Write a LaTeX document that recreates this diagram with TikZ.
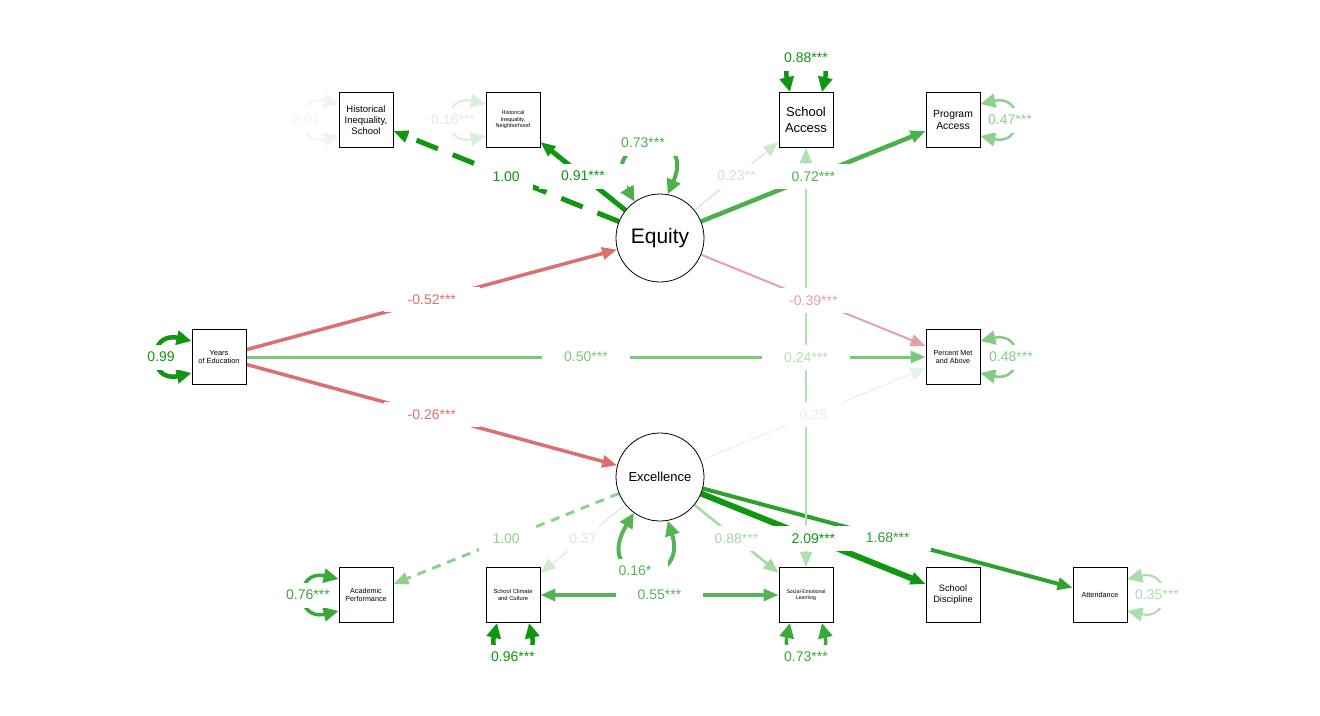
\documentclass[tikz,border=0pt]{standalone}
\usepackage{fontspec}
\setmainfont{Liberation Sans}
\usetikzlibrary{arrows.meta,calc}
\pgfdeclarelayer{bg}
\pgfsetlayers{bg,main}
\definecolor{gA}{HTML}{109610}
\definecolor{gB}{HTML}{2EA02E}
\definecolor{gC}{HTML}{3AA83A}
\definecolor{gD}{HTML}{4CB04C}
\definecolor{gE}{HTML}{55B555}
\definecolor{gF}{HTML}{7CC87C}
\definecolor{gG}{HTML}{84CC84}
\definecolor{gH}{HTML}{8ED08E}
\definecolor{gI}{HTML}{A6D9A6}
\definecolor{gJ}{HTML}{ACDCAC}
\definecolor{gK}{HTML}{B2DFB2}
\definecolor{gL}{HTML}{C8E8C8}
\definecolor{gM}{HTML}{D0ECD0}
\definecolor{gN}{HTML}{DAEFDA}
\definecolor{gO}{HTML}{E3F3E3}
\definecolor{gP}{HTML}{F2F2F2}
\definecolor{rA}{HTML}{DC7070}
\definecolor{rB}{HTML}{E8A0A0}
\newcommand\fs[2]{\fontsize{#1pt}{#2pt}\selectfont}
\newcommand\wlab[1]{\sbox0{#1}\hbox to 2\wd0{\hss\box0\hss}}
\tikzset{
  box/.style={draw=black,line width=0.9pt,minimum width=54pt,minimum height=55pt,inner sep=0pt,align=center,fill=white,text=black},
  lat/.style={draw=black,circle,line width=0.8pt,minimum size=88pt,inner sep=0pt,fill=white,text=black},
  reg/.style={-{Triangle[length=15pt,width=12pt]}},
  cov/.style={{Triangle[length=15pt,width=12pt]}-{Triangle[length=15pt,width=12pt]}},
  res/.style={{Triangle[length=15pt,width=14pt]}-{Triangle[length=15pt,width=14pt]}},
  lab/.style={fill=white,inner xsep=0pt,inner ysep=0pt,minimum height=25pt,font=\fs{14}{16}}
}
\begin{document}
\begin{tikzpicture}[x=1pt,y=-1pt]
\useasboundingbox (0,0) rectangle (1320,715);
% observed variables
\node[box,font=\fs{9.5}{10.8}] (his) at (366,120) {Historical\\Inequality,\\School};
\node[box,font=\fs{5.5}{6.5}] (hin) at (513,120) {Historical\\Inequality,\\Neighborhood};
\node[box,font=\fs{13}{15.5}] (sa) at (806,120) {School\\Access};
\node[box,font=\fs{10.4}{12}] (pa) at (953,120) {Program\\Access};
\node[box,font=\fs{7.4}{8.5}] (ye) at (219,357) {Years\\of Education};
\node[box,font=\fs{7.2}{8.4}] (pm) at (953,357) {Percent Met\\and Above};
\node[box,font=\fs{7.2}{8.4}] (ap) at (366,595) {Academic\\Performance};
\node[box,font=\fs{5.8}{6.8}] (sc) at (513,595) {School Climate\\and Culture};
\node[box,font=\fs{5.2}{6.2}] (sel) at (806,595) {Social-Emotional\\Learning};
\node[box,font=\fs{9.2}{10.8}] (sd) at (953,595) {School\\Discipline};
\node[box,font=\fs{7.3}{8.5}] (att) at (1100,595) {Attendance};
% latent variables
\node[lat,font=\fs{21}{24}] (eq) at (660,238) {Equity};
\node[lat,font=\fs{13}{15}] (ex) at (660,477) {Excellence};
\begin{pgfonlayer}{bg}
% paths
\draw[reg,line width=5pt,draw=gA,dash pattern=on 23pt off 16pt] (eq) -- coordinate[midway] (m1) (his);
\draw[reg,line width=5pt,draw=gA] (eq) -- coordinate[midway] (m2) (hin);
\draw[reg,line width=1pt,draw=gL] (eq) -- coordinate[midway] (m3) (sa);
\draw[reg,line width=4.5pt,draw=gD] (eq) -- coordinate[midway] (m4) (pa);
\draw[reg,line width=2pt,draw=rB] (eq) -- coordinate[midway] (m5) (pm);
\draw[reg,line width=3.5pt,draw=rA] (ye) -- coordinate[midway] (m6) (eq);
\draw[reg,line width=3pt,draw=gF] (ye) -- coordinate[midway] (m7) (pm);
\draw[reg,line width=3.5pt,draw=rA] (ye) -- coordinate[midway] (m8) (ex);
\draw[reg,line width=1pt,draw=gO] (ex) -- coordinate[midway] (m9) (pm);
\draw[reg,line width=3pt,draw=gH,dash pattern=on 9pt off 7pt] (ex) -- coordinate[midway] (m10) (ap);
\draw[reg,line width=1pt,draw=gM] (ex) -- coordinate[midway] (m11) (sc);
\draw[reg,line width=2.5pt,draw=gI] (ex) -- coordinate[midway] (m12) (sel);
\draw[reg,line width=6pt,draw=gA] (ex) -- coordinate[midway] (m13) (sd);
\draw[reg,line width=4pt,draw=gB] (ex) -- coordinate[midway] (m14) (att);
\draw[cov,line width=2pt,draw=gK] (sa) -- coordinate[midway] (m15) (sel);
\draw[cov,line width=3.5pt,draw=gE] (sc) -- coordinate[midway] (m16) (sel);
% residual variances
\draw[res,line width=1.5pt,draw=gP] ($(his.west)+(0,-16)$) .. controls +(-44,-10) and +(-44,10) .. ($(his.west)+(0,16)$);
\draw[res,line width=2pt,draw=gN] ($(hin.west)+(0,-16)$) .. controls +(-44,-10) and +(-44,10) .. ($(hin.west)+(0,16)$);
\draw[res,line width=4.5pt,draw=gA] ($(sa.north)+(-16,0)$) .. controls +(-10,-44) and +(10,-44) .. ($(sa.north)+(16,0)$);
\draw[res,line width=2.5pt,draw=gH] ($(pa.east)+(0,-16)$) .. controls +(44,-10) and +(44,10) .. ($(pa.east)+(0,16)$);
\draw[res,line width=4.5pt,draw=gA] ($(ye.west)+(0,-16)$) .. controls +(-44,-10) and +(-44,10) .. ($(ye.west)+(0,16)$);
\draw[res,line width=2.5pt,draw=gG] ($(pm.east)+(0,-16)$) .. controls +(44,-10) and +(44,10) .. ($(pm.east)+(0,16)$);
\draw[res,line width=3.5pt,draw=gC] ($(ap.west)+(0,-16)$) .. controls +(-44,-10) and +(-44,10) .. ($(ap.west)+(0,16)$);
\draw[res,line width=4.5pt,draw=gA] ($(sc.south)+(-16,0)$) .. controls +(-10,44) and +(10,44) .. ($(sc.south)+(16,0)$);
\draw[res,line width=3.5pt,draw=gC] ($(sel.south)+(-16,0)$) .. controls +(-10,44) and +(10,44) .. ($(sel.south)+(16,0)$);
\draw[res,line width=2pt,draw=gJ] ($(att.east)+(0,-16)$) .. controls +(44,-10) and +(44,10) .. ($(att.east)+(0,16)$);
\draw[res,line width=4pt,draw=gD] (eq.125) .. controls (596,135) and (698,125) .. (eq.80);
\draw[res,line width=4pt,draw=gE] (ex.234) .. controls (590,585) and (690,590) .. (ex.280);
% labels
\node[lab,text=gA] at (m1) {\wlab{1.00}};
\node[lab,text=gA] at (m2) {\wlab{0.91***}};
\node[lab,text=gL] at (m3) {\wlab{0.23**}};
\node[lab,text=gD] at (m4) {\wlab{0.72***}};
\node[lab,text=rB] at (m5) {\wlab{-0.39***}};
\node[lab,text=rA] at (m6) {\wlab{-0.52***}};
\node[lab,text=gF] at (m7) {\wlab{0.50***}};
\node[lab,text=rA] at (m8) {\wlab{-0.26***}};
\node[lab,text=gO] at (m9) {\wlab{0.28}};
\node[lab,text=gH] at (m10) {\wlab{1.00}};
\node[lab,text=gM] at (m11) {\wlab{0.37}};
\node[lab,text=gI] at (m12) {\wlab{0.88***}};
\node[lab,text=gA] at (m13) {\wlab{2.09***}};
\node[lab,text=gB] at (m14) {\wlab{1.68***}};
\node[lab,text=gK] at (m15) {\wlab{0.24***}};
\node[lab,text=gE] at (m16) {\wlab{0.55***}};
\node[lab,text=gP] at (306,120) {\wlab{0.01}};
\node[lab,text=gN] at (453,120) {\wlab{0.16***}};
\node[lab,text=gA] at (806,58) {\wlab{0.88***}};
\node[lab,text=gH] at (1010,120) {\wlab{0.47***}};
\node[lab,text=gA] at (161,357) {\wlab{0.99}};
\node[lab,text=gG] at (1011,357) {\wlab{0.48***}};
\node[lab,text=gC] at (308,595) {\wlab{0.76***}};
\node[lab,text=gA] at (513,657) {\wlab{0.96***}};
\node[lab,text=gC] at (806,657) {\wlab{0.73***}};
\node[lab,text=gJ] at (1157,595) {\wlab{0.35***}};
\node[lab,text=gD] at (643,143) {\wlab{0.73***}};
\node[lab,text=gE] at (635,571) {\wlab{0.16*}};
\end{pgfonlayer}
\end{tikzpicture}
\end{document}
